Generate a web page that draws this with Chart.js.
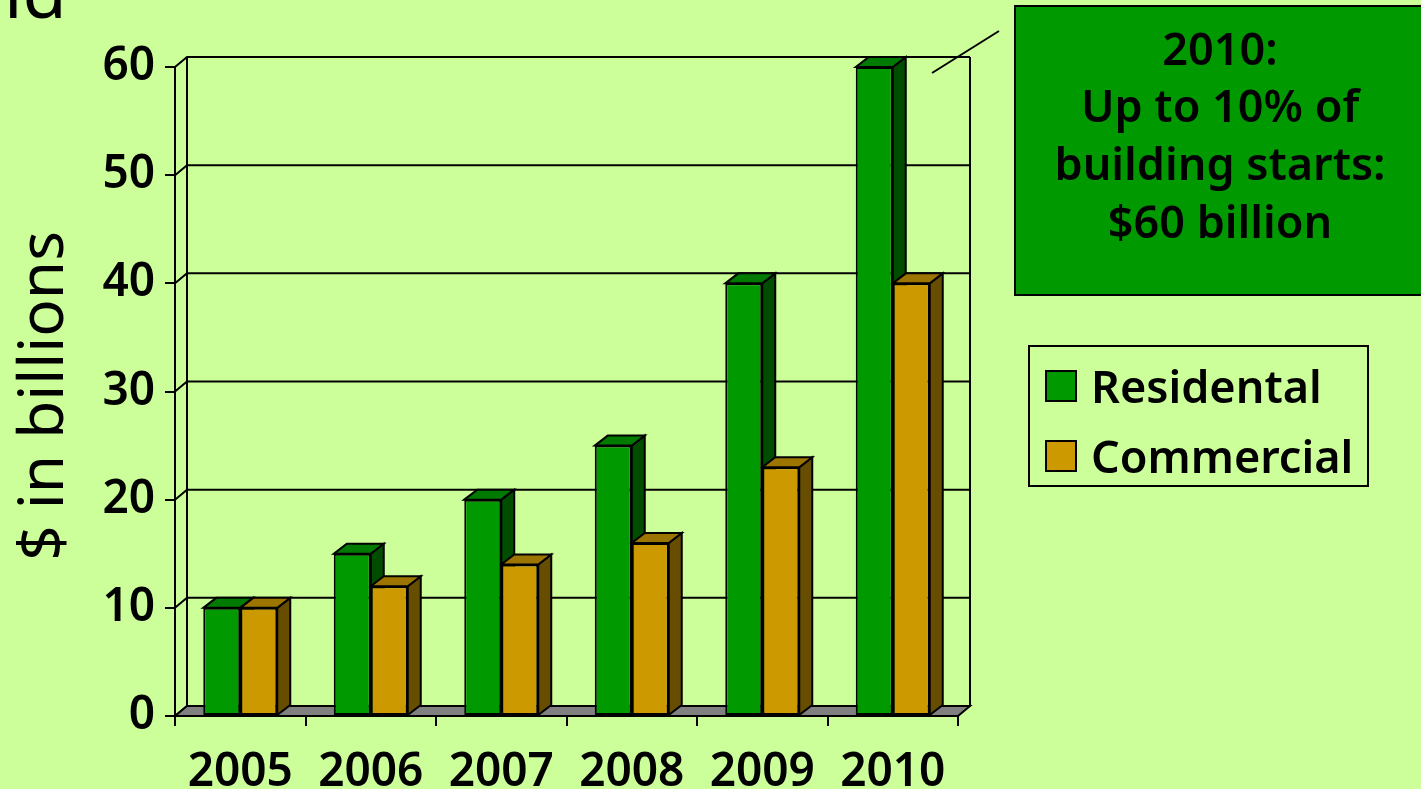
<!DOCTYPE html>
<html>
<head>
<meta charset="utf-8">
<script src="https://cdn.jsdelivr.net/npm/chart.js@4/dist/chart.umd.min.js"></script>
<style>
  html, body { margin: 0; padding: 0; background: #ccff99; overflow: hidden; }
  #wrap { width: 1421px; height: 789px; position: relative; }
</style>
</head>
<body>
<div id="wrap"><canvas id="chart" width="1421" height="789"></canvas></div>
<script>
// data
const years = ['2005', '2006', '2007', '2008', '2009', '2010'];
const residential = [10, 15, 20, 25, 40, 60];
const commercial = [10, 12, 14, 16, 23, 40];
const yMin = 0, yMax = 60, yStep = 10;
const seriesNames = ['Residental', 'Commercial'];
const noteLines = ['2010:', 'Up to 10% of', 'building starts:', '$60 billion'];

// colours: front, top, side
const greenFace = ['#009900', '#007a00', '#004d00'];
const goldFace = ['#cc9900', '#9c7500', '#664d00'];

const FONT = "'Noto Sans', 'DejaVu Sans', sans-serif";
const WEIGHT = 600;
const WALL_DX = 12, WALL_DY = 10;   // depth of back wall
const BAR_DX = 13, BAR_DY = 10;     // depth of each column

function poly(ctx, pts, fill) {
    ctx.beginPath();
    ctx.moveTo(pts[0][0], pts[0][1]);
    for (let i = 1; i < pts.length; i++) ctx.lineTo(pts[i][0], pts[i][1]);
    ctx.closePath();
    if (fill) { ctx.fillStyle = fill; ctx.fill(); }
    ctx.stroke();
}

// back wall, floor and the top/side faces of the columns
const depthPlugin = {
    id: 'depth',
    beforeDatasetsDraw(chart) {
        const ctx = chart.ctx;
        const { left: L, right: R, bottom: B } = chart.chartArea;
        const ys = chart.scales.y;
        ctx.save();
        ctx.strokeStyle = '#000';
        ctx.lineWidth = 2;
        ctx.lineJoin = 'miter';

        // wall gridlines with their diagonals back from the front axis
        for (let v = yMin; v <= yMax; v += yStep) {
            const y = ys.getPixelForValue(v);
            ctx.beginPath();
            ctx.moveTo(L, y);
            ctx.lineTo(L + WALL_DX, y - WALL_DY);
            ctx.lineTo(R + WALL_DX, y - WALL_DY);
            ctx.stroke();
        }
        const yTop = ys.getPixelForValue(yMax);
        ctx.beginPath();
        ctx.moveTo(L + WALL_DX, yTop - WALL_DY);
        ctx.lineTo(L + WALL_DX, B - WALL_DY);
        ctx.moveTo(R + WALL_DX, yTop - WALL_DY);
        ctx.lineTo(R + WALL_DX, B - WALL_DY);
        ctx.stroke();

        // floor
        poly(ctx, [[L, B], [R, B], [R + WALL_DX, B - WALL_DY], [L + WALL_DX, B - WALL_DY]], '#808080');

        // column tops and sides, series by series so later ones overlap
        chart.data.datasets.forEach((ds, i) => {
            const meta = chart.getDatasetMeta(i);
            meta.data.forEach(bar => {
                const p = bar.getProps(['x', 'y', 'base', 'width'], true);
                const l = p.x - p.width / 2, r = p.x + p.width / 2;
                poly(ctx, [[r, p.y], [r + BAR_DX, p.y - BAR_DY], [r + BAR_DX, p.base - BAR_DY], [r, p.base]], ds.sideColor);
                poly(ctx, [[l, p.y], [l + BAR_DX, p.y - BAR_DY], [r + BAR_DX, p.y - BAR_DY], [r, p.y]], ds.topColor);
            });
        });
        ctx.restore();
    },
    afterDraw(chart) {
        const ctx = chart.ctx;
        ctx.save();
        ctx.fillStyle = '#000';
        ctx.strokeStyle = '#000';

        // clipped title fragment in the corner
        ctx.font = `72px ${FONT}`;
        ctx.textAlign = 'left';
        ctx.textBaseline = 'alphabetic';
        ctx.fillText('ld', 4, 18);

        // y axis title
        ctx.save();
        ctx.translate(63, 396);
        ctx.rotate(-Math.PI / 2);
        ctx.font = `62px ${FONT}`;
        ctx.textAlign = 'center';
        ctx.fillText('$ in billions', 0, 0);
        ctx.restore();

        // callout box
        ctx.lineWidth = 2;
        ctx.beginPath();
        ctx.moveTo(932, 73);
        ctx.lineTo(999, 31);
        ctx.stroke();
        ctx.fillStyle = '#009900';
        ctx.fillRect(1015, 6, 410, 289);
        ctx.strokeRect(1015, 6, 410, 289);
        ctx.fillStyle = '#000';
        ctx.font = `${WEIGHT} 45px ${FONT}`;
        ctx.textAlign = 'center';
        const baselines = [65, 122, 180, 238];
        noteLines.forEach((t, i) => ctx.fillText(t, 1220, baselines[i]));

        // legend
        ctx.strokeRect(1029, 346, 339, 140);
        ctx.textAlign = 'left';
        const rows = [386, 456];
        chart.data.datasets.forEach((ds, i) => {
            ctx.fillStyle = ds.backgroundColor;
            ctx.fillRect(1046, rows[i] - 15, 30, 30);
            ctx.strokeRect(1046, rows[i] - 15, 30, 30);
            ctx.fillStyle = '#000';
            ctx.fillText(ds.label, 1091, rows[i] + 17);
        });
        ctx.restore();
    }
};

const tickFont = { family: FONT, size: 46, weight: WEIGHT };

new Chart(document.getElementById('chart'), {
    type: 'bar',
    data: {
        labels: years,
        datasets: [{
            label: seriesNames[0],
            data: residential,
            backgroundColor: greenFace[0],
            topColor: greenFace[1],
            sideColor: greenFace[2],
            borderColor: '#000',
            borderWidth: 2,
            borderSkipped: false
        }, {
            label: seriesNames[1],
            data: commercial,
            backgroundColor: goldFace[0],
            topColor: goldFace[1],
            sideColor: goldFace[2],
            borderColor: '#000',
            borderWidth: 2,
            borderSkipped: false
        }]
    },
    options: {
        responsive: false,
        animation: false,
        categoryPercentage: 0.567,
        barPercentage: 1.0,
        layout: { padding: { top: 67, right: 463, bottom: 0, left: 0 } },
        plugins: { legend: { display: false }, tooltip: { enabled: false } },
        scales: {
            x: {
                ticks: { color: '#000', font: tickFont, padding: 19, maxRotation: 0, autoSkip: false },
                grid: { offset: true, drawOnChartArea: false, drawTicks: true, tickLength: 10, color: '#000', lineWidth: 2 },
                border: { display: true, color: '#000', width: 2 },
                afterFit: s => { s.height = 73; }
            },
            y: {
                min: yMin,
                max: yMax,
                ticks: { stepSize: yStep, color: '#000', font: tickFont, padding: 10 },
                grid: { drawOnChartArea: false, drawTicks: true, tickLength: 10, color: '#000', lineWidth: 2 },
                border: { display: true, color: '#000', width: 2 },
                afterFit: s => { s.width = 175; }
            }
        }
    },
    plugins: [depthPlugin]
});
</script>
</body>
</html>
